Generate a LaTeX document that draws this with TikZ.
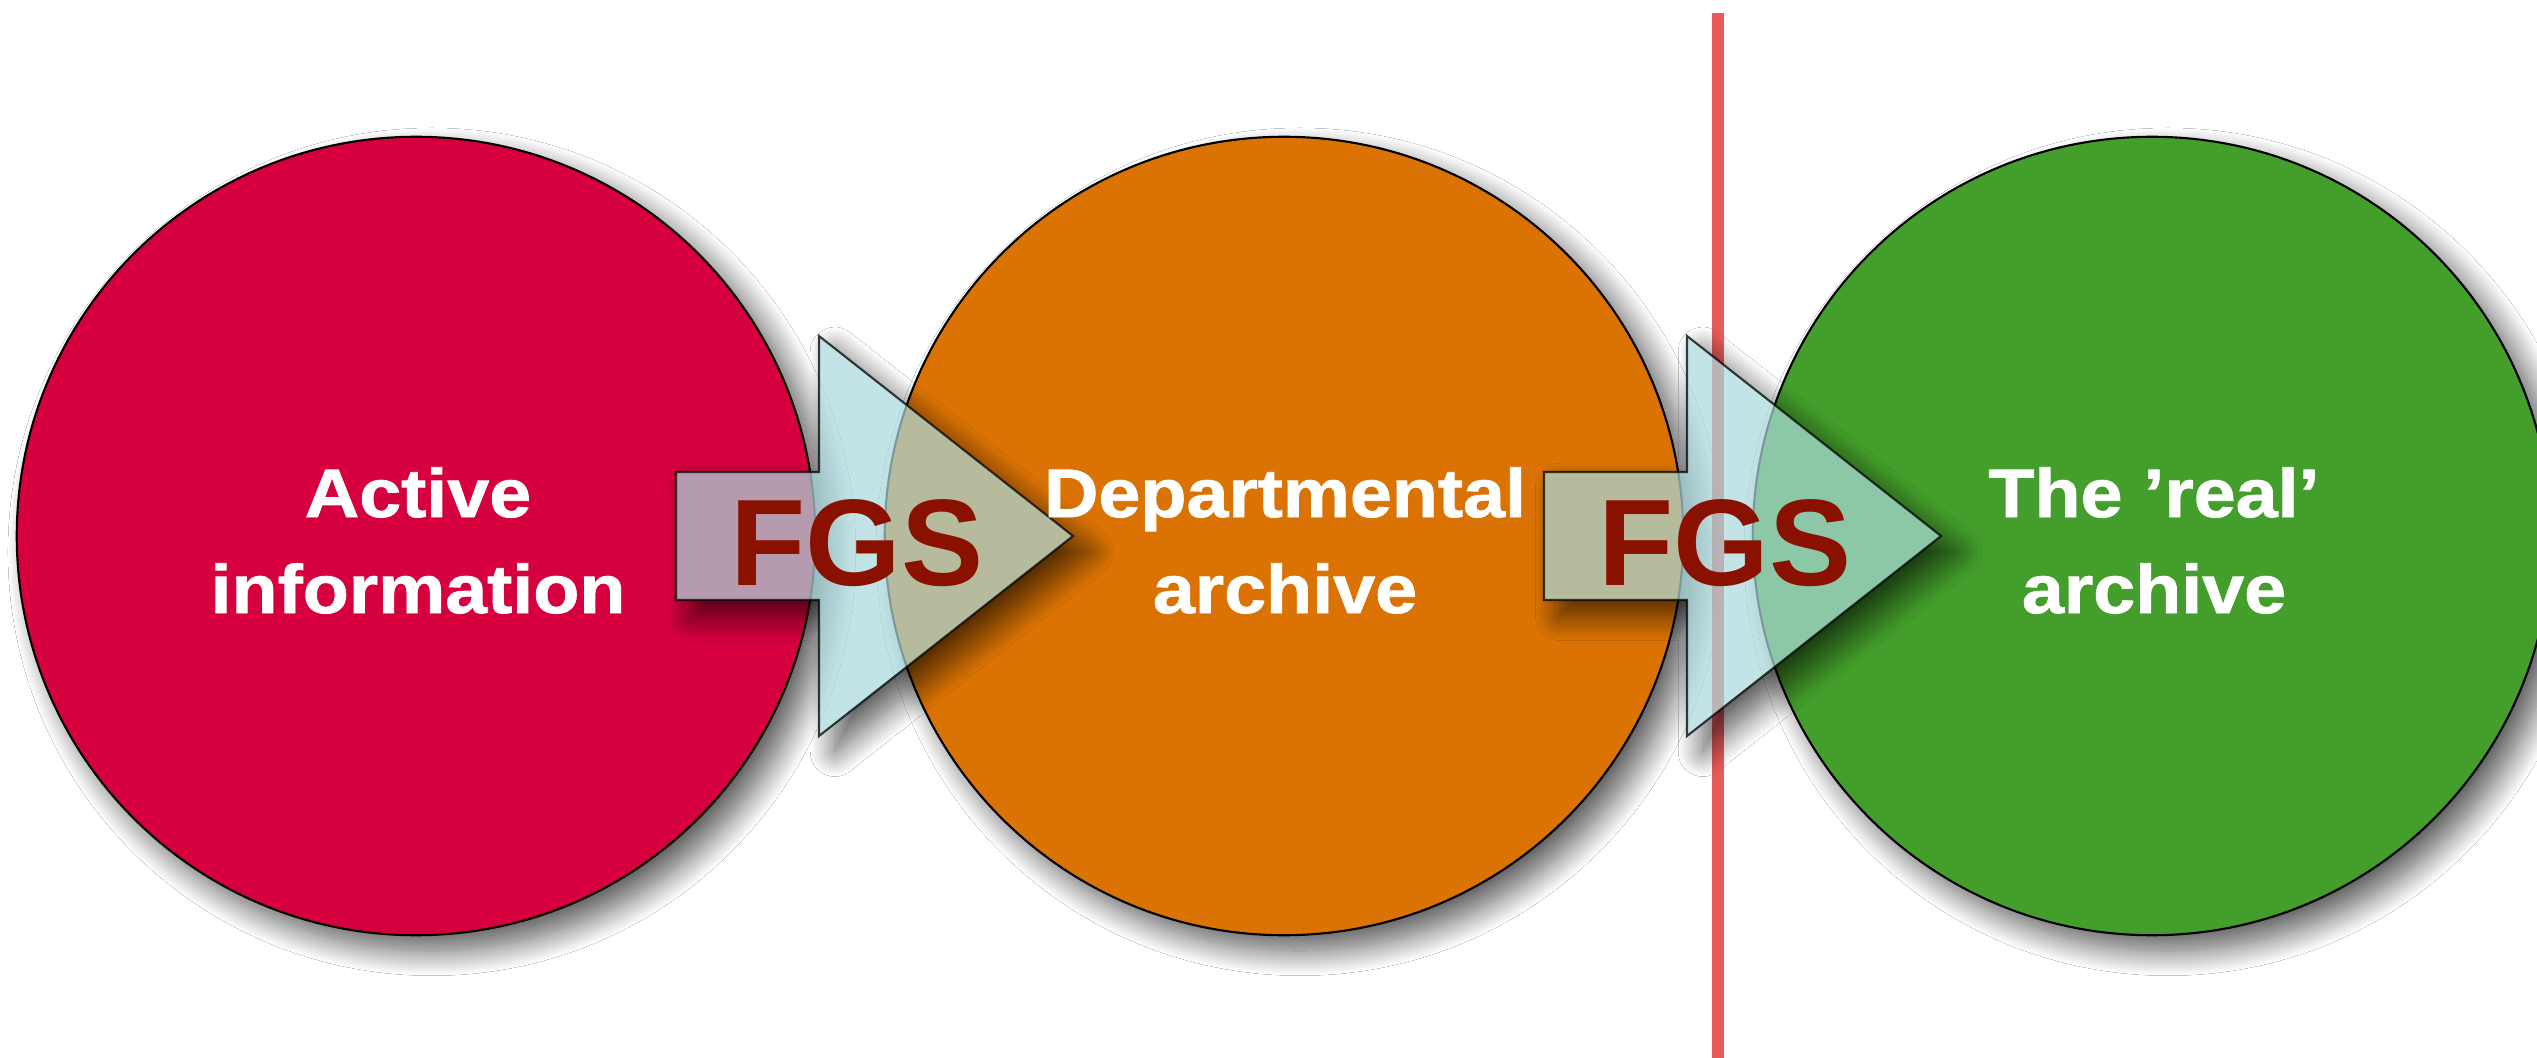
\documentclass[tikz,border=0pt]{standalone}
\usepackage{fontspec}
\setmainfont{Liberation Sans}
\newfontfamily\labelfont{Liberation Sans}[FakeStretch=1.1,FakeBold=1.2]
\usetikzlibrary{shadows.blur}
\definecolor{cred}{HTML}{D5003D}
\definecolor{corange}{HTML}{DA7304}
\definecolor{cgreen}{HTML}{449E2B}
\definecolor{arrowblue}{RGB}{170,217,220}
\definecolor{fgsred}{HTML}{8A1000}
\definecolor{chalkred}{HTML}{E85A5A}
\tikzset{
  softshadow/.style={blur shadow={shadow xshift=4.5pt, shadow yshift=-4.5pt, shadow blur radius=7pt, shadow opacity=65, shadow blur steps=24}},
  bubble/.style={circle, minimum size=7.98cm, inner sep=0pt, draw=black, line width=0.6pt, softshadow},
  arrowbody/.style={fill=arrowblue, fill opacity=0.71, draw=black, draw opacity=0.75, line width=0.6pt, line join=miter},
  fgs/.style={anchor=base, inner sep=0pt, text=fgsred, font=\fontsize{35}{40}\selectfont\bfseries},
  lbl/.style={anchor=base, inner sep=0pt, text=white, font=\labelfont\fontsize{19.5}{27}\selectfont\bfseries},
  chalk/.style={line width=0.12cm, draw=chalkred}
}
\begin{document}
\begin{tikzpicture}[x=0.01cm, y=-0.01cm]
\useasboundingbox (0,0) rectangle (2537,1058);
\clip (0,0) rectangle (2537,1058);
\fill[white] (0,0) rectangle (2537,1058);

% chalk separator line
\coordinate (lt) at (1718,13);
\coordinate (lb) at (1718,1058);
\draw[chalk] (lt) -- (lb);

% circles
\node[bubble, fill=cred] (c1) at (416,536) {};
\node[bubble, fill=corange] (c2) at (1284,536) {};
\node[bubble, fill=cgreen] (c3) at (2152,536) {};

% arrow shadows (outside the arrow only) and arrow bodies
\foreach \dx in {0,868} {
  \begin{scope}[shift={(\dx,0)}]
    \begin{scope}[even odd rule]
      \clip (500,200) rectangle (1300,900)
        (676,472) -- (819,472) -- (819,336) -- (1073,536) -- (819,736) -- (819,600) -- (676,600) -- cycle;
      \path[softshadow] (676,472) -- (819,472) -- (819,336) -- (1073,536) -- (819,736) -- (819,600) -- (676,600) -- cycle;
    \end{scope}
    \path[arrowbody] (676,472) -- (819,472) -- (819,336) -- (1073,536) -- (819,736) -- (819,600) -- (676,600) -- cycle;
  \end{scope}
}

% FGS labels
\node[fgs] (f1) at (857,585) {FGS};
\node[fgs] (f2) at (1725,585) {FGS};

% circle labels
\node[lbl] (l1a) at (418,517) {Active};
\node[lbl] (l1b) at (418,613) {information};
\node[lbl] (l2a) at (1285,517) {Departmental};
\node[lbl] (l2b) at (1285,613) {archive};
\node[lbl] (l3a) at (2154,517) {The ’real’};
\node[lbl] (l3b) at (2154,613) {archive};
\end{tikzpicture}
\end{document}
